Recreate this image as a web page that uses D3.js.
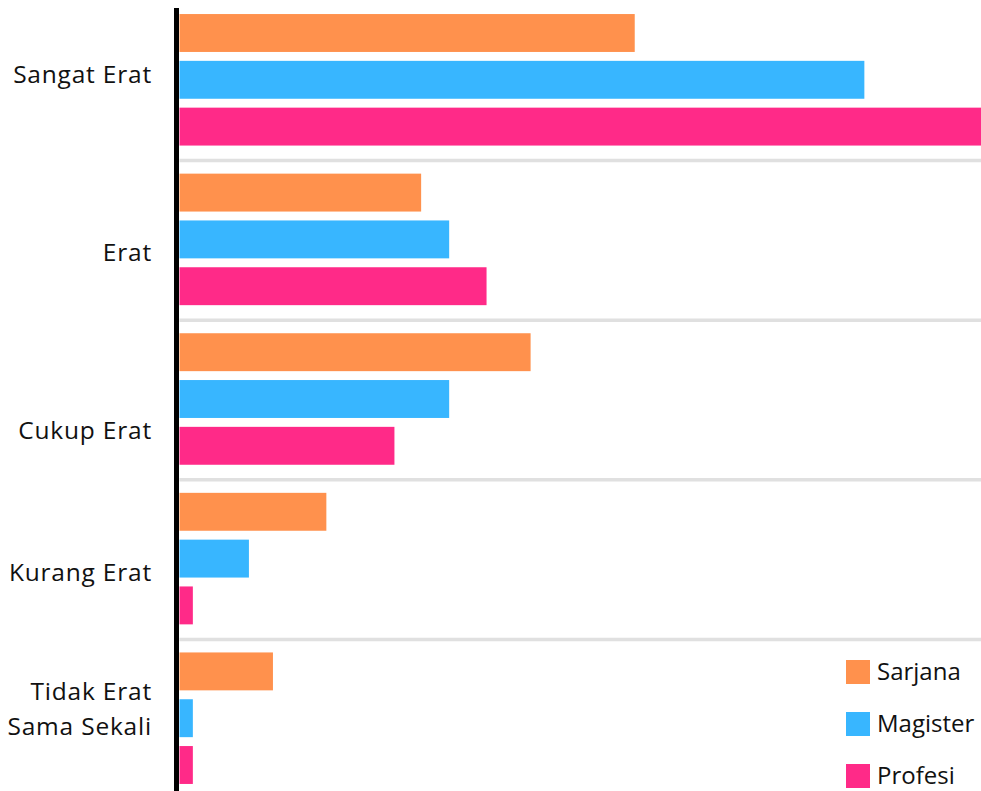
<!DOCTYPE html>
<html>
<head>
<meta charset="utf-8">
<script src="https://cdn.jsdelivr.net/npm/d3@7"></script>
<style>
  html, body { margin: 0; padding: 0; background: #fff; overflow: hidden; }
  svg { display: block; }
</style>
</head>
<body>
<div id="chart"></div>
<script>
const categories = ["Sangat Erat", "Erat", "Cukup Erat", "Kurang Erat", "Tidak Erat Sama Sekali"]
const labelLines = [["Sangat Erat"], ["Erat"], ["Cukup Erat"], ["Kurang Erat"], ["Tidak Erat", "Sama Sekali"]]
const seriesNames = ["Sarjana", "Magister", "Profesi"]
const sarjana = [34.1, 18.1, 26.3, 11.0, 7.0]
const magister = [51.3, 20.2, 20.2, 5.2, 1.0]
const profesi = [62.0, 23.0, 16.1, 1.0, 1.0]
const seriesColors = ["#ff914d", "#38b6ff", "#ff2a88"]

const width = 981
const height = 791
const margin = { top: 0, left: 179.5 }

const values = [sarjana, magister, profesi]
const rows = categories.map((c, i) => ({
  category: c,
  lines: labelLines[i],
  bars: seriesNames.map((s, j) => ({ series: s, value: values[j][i] })),
}))

// label nudges so the text sits where the original placed it
const labelShift = [-5, 13, 32, 14, -9]

const x = d3.scaleLinear().domain([0, 60]).range([margin.left, 980.5])

const y0 = d3.scaleBand().domain(categories).range([0, 798]).padding(0)

const y1 = d3
  .scaleBand()
  .domain(seriesNames)
  .range([0, y0.bandwidth()])
  .paddingInner(0.19)
  .paddingOuter(0.3)

const color = d3.scaleOrdinal().domain(seriesNames).range(seriesColors)

const svg = d3
  .select("#chart")
  .append("svg")
  .attr("width", width)
  .attr("height", height)
  .attr("viewBox", `0 0 ${width} ${height}`)

// group separators
svg
  .append("g")
  .selectAll("line")
  .data(categories.slice(0, -1))
  .enter()
  .append("line")
  .attr("x1", margin.left)
  .attr("x2", width)
  .attr("y1", (d) => y0(d) + y0.bandwidth() + 1)
  .attr("y2", (d) => y0(d) + y0.bandwidth() + 1)
  .attr("stroke", "#e0e0e0")
  .attr("stroke-width", 3.5)

const groups = svg
  .append("g")
  .selectAll("g")
  .data(rows)
  .enter()
  .append("g")
  .attr("transform", (d) => `translate(0,${y0(d.category)})`)

groups
  .selectAll("rect")
  .data((d) => d.bars)
  .enter()
  .append("rect")
  .attr("x", x(0))
  .attr("y", (d) => y1(d.series))
  .attr("width", (d) => x(d.value) - x(0))
  .attr("height", y1.bandwidth())
  .attr("fill", (d) => color(d.series))

// category labels
groups.each(function (d, i) {
  const g = d3.select(this)
  const mid = y1("Magister") + y1.bandwidth() / 2 + labelShift[i]
  const lh = 35
  const n = d.lines.length
  d.lines.forEach((line, k) => {
    g.append("text")
      .attr("x", 152)
      .attr("y", mid + (k - (n - 1) / 2) * lh + 8.5)
      .attr("text-anchor", "end")
      .attr("font-family", "'Open Sans', sans-serif")
      .attr("font-size", "24.5px")
      .attr("letter-spacing", "0.8px")
      .attr("fill", "#111")
      .text(line)
  })
})

// vertical axis line
svg
  .append("line")
  .attr("x1", 176.5)
  .attr("x2", 176.5)
  .attr("y1", 8)
  .attr("y2", height)
  .attr("stroke", "#000")
  .attr("stroke-width", 5)

// legend
const legend = svg
  .append("g")
  .attr("transform", "translate(846,660)")
  .selectAll("g")
  .data(seriesNames)
  .enter()
  .append("g")
  .attr("transform", (d, i) => `translate(0,${i * 52})`)

legend
  .append("rect")
  .attr("width", 24)
  .attr("height", 24)
  .attr("fill", (d) => color(d))

legend
  .append("text")
  .attr("x", 31)
  .attr("y", 20)
  .attr("font-family", "'Open Sans', sans-serif")
  .attr("font-size", "24px")
  .attr("fill", "#111")
  .text((d) => d)
</script>
</body>
</html>
